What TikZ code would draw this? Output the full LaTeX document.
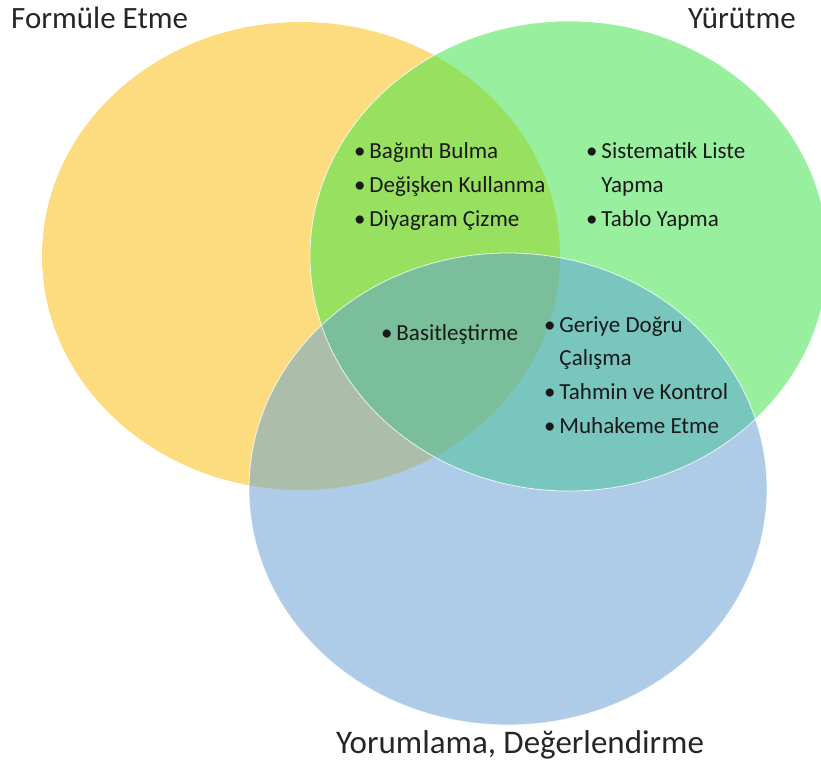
\documentclass[tikz,border=0pt]{standalone}
\usepackage{fontspec}
\setmainfont{Carlito}
\usetikzlibrary{positioning}

\definecolor{formcol}{HTML}{FDDC80}
\definecolor{yurcol}{HTML}{98F09F}
\definecolor{yorcol}{HTML}{AECCE8}
\definecolor{fycol}{HTML}{98E060}
\definecolor{yycol}{HTML}{78C6BD}
\definecolor{fbcol}{HTML}{ACBEA9}
\definecolor{allcol}{HTML}{7ABE9B}

\newcommand{\ellFormule}{(301,256) ellipse (259pt and 234pt)}
\newcommand{\ellYurutme}{(569,256) ellipse (259pt and 235pt)}
\newcommand{\ellYorum}{(508,489) ellipse (259pt and 236pt)}

\tikzset{
  setlabel/.style={font=\fontsize{31}{36}\selectfont, text=black!85, inner sep=0pt},
  itemlist/.style={font=\fontsize{23}{33.8}\selectfont, text=black!90, inner sep=0pt, anchor=west},
}

\begin{document}
\begin{tikzpicture}[x=1pt, y=-1pt]
\useasboundingbox (0,0) rectangle (821,766);
\clip (0,0) rectangle (821,766);

% the three sets
\fill[formcol] \ellFormule;
\fill[yurcol] \ellYurutme;
\fill[yorcol] \ellYorum;

% pairwise overlaps
\begin{scope}
\clip \ellFormule;
\fill[fycol] \ellYurutme;
\fill[fbcol] \ellYorum;
\end{scope}
\begin{scope}
\clip \ellYurutme;
\fill[yycol] \ellYorum;
\end{scope}
\begin{scope}
\clip \ellFormule;
\clip \ellYurutme;
\fill[allcol] \ellYorum;
\end{scope}

\draw[white, line width=0.8pt, opacity=0.8] \ellYurutme;
\draw[white, line width=0.8pt, opacity=0.8] \ellYorum;

% set names
\node[setlabel, anchor=west] (formule) at (11,18) {Formüle Etme};
\node[setlabel, anchor=east] (yurutme) at (796,18) {Yürütme};
\node[setlabel, font=\fontsize{33}{38}\selectfont] (yorumlama) at (520,745) {Yorumlama, Değerlendirme};

% strategies
\node[itemlist] (fy) at (354,186) {\begin{tabular}{@{}l@{\,}l@{}}
\textbullet & Bağıntı Bulma\\
\textbullet & Değişken Kullanma\\
\textbullet & Diyagram Çizme
\end{tabular}};
\node[itemlist] (yur) at (586,186) {\begin{tabular}{@{}l@{\,}l@{}}
\textbullet & Sistematik Liste\\
 & Yapma\\
\textbullet & Tablo Yapma
\end{tabular}};
\node[itemlist] (hepsi) at (381,334) {\begin{tabular}{@{}l@{\,}l@{}}
\textbullet & Basitleştirme
\end{tabular}};
\node[itemlist] (yy) at (544,376) {\begin{tabular}{@{}l@{\,}l@{}}
\textbullet & Geriye Doğru\\
 & Çalışma\\
\textbullet & Tahmin ve Kontrol\\
\textbullet & Muhakeme Etme
\end{tabular}};
\end{tikzpicture}
\end{document}
